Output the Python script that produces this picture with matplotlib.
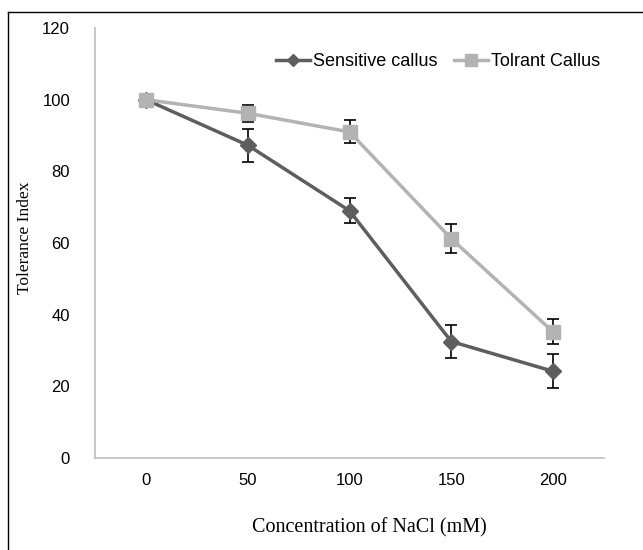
import matplotlib.pyplot as plt
from matplotlib.lines import Line2D

conc = ['0', '50', '100', '150', '200']
sensitive = [100, 87.3, 69.0, 32.5, 24.2]
sensitive_err = [0, 4.6, 3.5, 4.5, 4.8]
tolerant = [100, 96.2, 91.0, 61.2, 35.2]
tolerant_err = [0, 2.4, 3.2, 4.0, 3.5]

dark = '#5e5e5e'
light = '#b3b3b3'

fig = plt.figure(figsize=(6.43, 5.5), dpi=100)
ax = fig.add_axes([95/643, 1-458/550, 509/643, 430/550])

x = range(len(conc))
ax.errorbar(x, sensitive, yerr=sensitive_err, color=dark, lw=2.5,
            marker='D', ms=8, ecolor='black', elinewidth=1.2, capsize=4,
            capthick=1.2, zorder=2)
ax.errorbar(x, tolerant, yerr=tolerant_err, color=light, lw=2.5,
            marker='s', ms=10, ecolor='black', elinewidth=1.2, capsize=4,
            capthick=1.2, zorder=3)

ax.set_xlim(-0.5, 4.5)
ax.set_ylim(0, 120)
ax.set_yticks(range(0, 121, 20))
ax.set_xticks(list(x))
ax.set_xticklabels(conc)
for s in ['top', 'right']:
    ax.spines[s].set_visible(False)
for s in ['left', 'bottom']:
    ax.spines[s].set_color('#bfbfbf')
    ax.spines[s].set_linewidth(1.2)
ax.tick_params(length=0, labelsize=12)
ax.tick_params(axis='x', pad=11)
ax.tick_params(axis='y', pad=18)
for t in ax.get_xticklabels() + ax.get_yticklabels():
    t.set_family('Liberation Sans')

ax.set_xlabel('Concentration of NaCl (mM)', family='Liberation Serif', fontsize=14.5)
ax.xaxis.set_label_coords(0.54, -0.163)
ax.xaxis.label.set_va('center')
ax.set_ylabel('Tolerance Index', family='Liberation Serif', fontsize=12.5)
ax.yaxis.set_label_coords(-0.1375, 0.513)
ax.yaxis.label.set_va('center')

handles = [Line2D([], [], color=dark, lw=2.5, marker='D', ms=6),
           Line2D([], [], color=light, lw=2.5, marker='s', ms=8)]
ax.legend(handles, ['Sensitive callus', 'Tolrant Callus'], loc='center right',
          bbox_to_anchor=(1.01, 1-(62-28)/430), ncol=2, frameon=False,
          prop={'family': 'Liberation Sans', 'size': 13}, handlelength=1.9,
          handletextpad=0.15, columnspacing=0.9, borderpad=0)

fig.add_artist(Line2D([8/643, 8/643], [0, 1-12/550], color='black', lw=1))
fig.add_artist(Line2D([8/643, 1], [1-12/550, 1-12/550], color='black', lw=1))

plt.savefig('out.png', dpi=100)
